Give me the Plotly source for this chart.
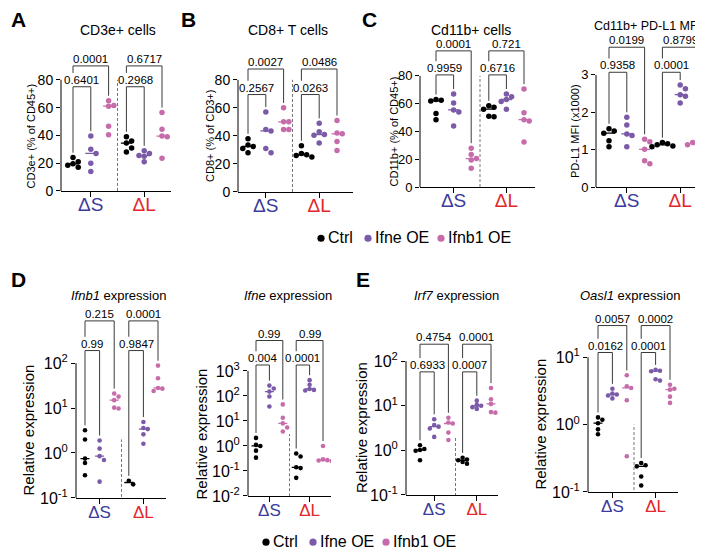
import numpy as np
import plotly.graph_objects as go

W, H = 703, 553
FONT = "Arial, Liberation Sans, Helvetica, sans-serif"
COLORS = ["#000000", "#7b5ba8", "#c76cab"]
GROUP_COLORS = ["#3b3b9b", "#e2262b"]
NAMES = ["Ctrl", "Ifne OE", "Ifnb1 OE"]

# values: [Ctrl, Ifne OE, Ifnb1 OE] for dS and dL
cd3e_S = [[24, 21, 19.5, 18.5, 17], [39.5, 30, 27, 20, 14], [65, 61.5, 61, 46.5, 40.5]]
cd3e_L = [[39, 36, 34.5, 31, 28], [29, 27, 25.5, 25, 21], [56.5, 44.5, 39.5, 39, 23.5]]
cd3e_p = ["0.6401", "0.0001", "0.2968", "0.6717"]

cd8_S = [[38, 33.5, 32.5, 31, 28], [57, 44.5, 43.5, 31, 28], [60, 50, 50, 44.5, 44.5]]
cd8_L = [[33, 27.5, 26.5, 26, 25], [49, 43, 41, 40.5, 35], [51, 42, 41.5, 36, 29.5]]
cd8_p = ["0.2567", "0.0027", "0.0263", "0.0486"]

cd11b_S = [[63, 62.5, 62, 53, 48.5], [67, 60.5, 55.5, 54, 44], [28, 23.5, 20.5, 19.5, 13.5]]
cd11b_L = [[58.5, 57.5, 56, 51, 50.5], [67, 65, 63, 61.5, 56], [70.5, 53.5, 48.5, 47.5, 32.5]]
cd11b_p = ["0.9959", "0.0001", "0.6716", "0.721"]

pdl1_S = [[1.56, 1.5, 1.44, 1.24, 1.08], [1.87, 1.66, 1.42, 1.38, 1.08], [1.28, 1.21, 1.01, 0.7, 0.62]]
pdl1_L = [[1.19, 1.16, 1.13, 1.1, 1.08], [2.73, 2.63, 2.47, 2.43, 2.25], [1.24, 1.21, 1.19, 1.18, 1.13]]
pdl1_p = ["0.9358", "0.0199", "0.0001", "0.8799"]

ifnb1_S = [[3.2, 2.0, 0.75, 0.6, 0.32], [1.9, 1.25, 0.85, 0.7, 0.23], [21, 18, 15, 10.2, 9.8]]
ifnb1_L = [[0.24, 0.2], [4.9, 3.6, 3.4, 2.6, 1.6], [88, 46, 28, 27, 24]]
ifnb1_p = ["0.99", "0.215", "0.9847", "0.0001"]

ifne_S = [[2.1, 1.1, 1.0, 0.65, 0.34], [260, 200, 150, 95, 38], [46, 13.5, 8, 5.5, 3.8]]
ifne_L = [[0.5, 0.38, 0.14, 0.13, 0.053], [430, 280, 190, 175, 165], [1.0, 0.29, 0.27, 0.26, 0.25]]
ifne_p = ["0.004", "0.99", "0.0001", "0.99"]

irf7_S = [[1.3, 1.07, 1.02, 0.98, 0.6], [5, 3.7, 3.4, 3.1, 2], [5.4, 4.2, 4, 2.5, 1.7]]
irf7_L = [[0.68, 0.62, 0.6, 0.55, 0.5], [13, 10.5, 10, 9.3, 8.5], [25, 14, 11, 7, 7.2]]
irf7_p = ["0.6933", "0.4754", "0.0007", "0.0001"]

oasl1_S = [[1.28, 1.18, 1.05, 0.85, 0.72], [3.4, 2.9, 2.8, 2.7, 2.45], [5.4, 3.7, 3.5, 2.3, 0.34]]
oasl1_L = [[0.27, 0.25, 0.24, 0.17, 0.125], [6.5, 6.3, 6.2, 4.7, 4.5], [3.9, 3.4, 3.3, 2.6, 2.1]]
oasl1_p = ["0.0162", "0.0057", "0.0001", "0.0002"]

lin_ticks = [0, 20, 40, 60, 80]

# layout of each panel in pixels: x axis (left, right, first cat, last cat), y axis (bottom, top tick, domain top)
panels = [
    dict(S=cd3e_S, L=cd3e_L, p=cd3e_p, title="CD3e+ cells", tpos=(110, 22, 14), ytitle="CD3e+ (% of CD45+)",
         ticks=lin_ticks, log=False, xpx=(53, 163, 65, 154), ypx=(186, 73, 25), brk=(75, 90), ysh=30,
         tfs=14, letter=("A", 1, 12), dash=True),
    dict(S=cd8_S, L=cd8_L, p=cd8_p, title="CD8+ T cells", tpos=(280, 22, 14), ytitle="CD8+ (% of CD3+)",
         ticks=lin_ticks, log=False, xpx=(230, 345, 240, 329), ypx=(187, 73, 25), brk=(69.5, 87.7), ysh=28,
         tfs=14, letter=("B", 171, 12), dash=True),
    dict(S=cd11b_S, L=cd11b_L, p=cd11b_p, title="Cd11b+ cells", tpos=(463, 22, 14), ytitle="CD11b+ (% of CD45+)",
         ticks=lin_ticks, log=False, xpx=(412, 527, 428, 516), ypx=(182, 69, 25), brk=(80.7, 98), ysh=26,
         tfs=13, letter=("C", 352, 12), dash=True),
    dict(S=pdl1_S, L=pdl1_L, p=pdl1_p, title="Cd11b+ PD-L1 MFI", tpos=(639, 18, 12.5), ytitle="PD-L1 MFI (x1000)",
         ticks=[0, 1, 2, 3], log=False, xpx=(588, 703, 601, 690), ypx=(182, 68, 25), brk=(3.07, 3.74), ysh=21,
         tfs=13, letter=None, dash=False),
    dict(S=ifnb1_S, L=ifnb1_L, p=ifnb1_p, title="<i>Ifnb1</i> expression", tpos=(110, 292, 13),
         ytitle="Relative expression", ticks=[0.1, 1, 10, 100], log=True, xpx=(68, 158, 77, 150),
         ypx=(498, 361, 298), brk=(2.28, 2.94), ysh=47, tfs=16, letter=("D", 1, 276), dash=True),
    dict(S=ifne_S, L=ifne_L, p=ifne_p, title="<i>Ifne</i> expression", tpos=(280, 292, 13),
         ytitle="Relative expression", ticks=[0.01, 0.1, 1, 10, 100, 1000], log=True, xpx=(240, 323, 248, 315),
         ypx=(496, 369, 298), brk=(3.24, 4.22), ysh=47, tfs=16, letter=None, dash=True),
    dict(S=irf7_S, L=irf7_L, p=irf7_p, title="<i>Irf7</i> expression", tpos=(448, 292, 13),
         ytitle="Relative expression", ticks=[0.1, 1, 10, 100], log=True, xpx=(398, 490, 412, 483),
         ypx=(495, 359, 298), brk=(1.76, 2.38), ysh=45, tfs=16, letter=("E", 346, 276), dash=True),
    dict(S=oasl1_S, L=oasl1_L, p=oasl1_p, title="<i>Oasl1</i> expression", tpos=(622, 292, 13),
         ytitle="Relative expression", ticks=[0.1, 1, 10], log=True, xpx=(580, 670, 590, 662),
         ypx=(492, 355, 298), brk=(1.07, 1.47), ysh=47, tfs=16, letter=None, dash=True),
]


def swarm(t, sx, sy, d):
    # simple beeswarm: spread overlapping dots sideways (pixel space)
    order = np.argsort(-t)
    placed = []
    offs = np.zeros(len(t))
    for k in order:
        y = t[k] * sy
        for o in [0, 1, -1, 2, -2, 3, -3]:
            ox = o * d * 0.95
            if all((ox - a) ** 2 + (y - b) ** 2 >= (0.9 * d) ** 2 for a, b in placed):
                break
        placed.append((ox, y))
        offs[k] = ox / sx
    return offs


fig = go.Figure()
shapes, annos = [], []
axis_font = dict(family=FONT, color="black")

for i, P in enumerate(panels, start=1):
    sfx = "" if i == 1 else str(i)
    xa, ya = "x" + sfx, "y" + sfx
    log = P["log"]
    top_row = not log
    xl, xr, p0, p5 = P["xpx"]
    yb, yt, ytop = P["ypx"]
    sx = (p5 - p0) / 5
    tr = (lambda v: np.log10(np.asarray(v, float))) if log else (lambda v: np.asarray(v, float))
    to_val = (lambda t: 10 ** np.asarray(t)) if log else (lambda t: np.asarray(t))
    lo, hi = float(tr(P["ticks"][0])), float(tr(P["ticks"][-1]))
    sy = (yb - yt) / (hi - lo)
    top = lo + (yb - ytop) / sy

    if log:
        ticktext = ["10<sup>%d</sup>" % round(np.log10(t)) for t in P["ticks"]]
    else:
        ticktext = [str(t) for t in P["ticks"]]
    gfs = 19 if top_row else 17
    fig.update_layout({
        "xaxis" + sfx: dict(domain=[xl / W, xr / W], anchor=ya, range=[(xl - p0) / sx, (xr - p0) / sx],
                            showgrid=False, zeroline=False, showline=True, linecolor="black", linewidth=1,
                            ticks="outside", ticklen=5, tickcolor="black", tickvals=[1, 4],
                            ticklabelstandoff=-9 if top_row else -6,
                            ticktext=["<span style='color:%s'>ΔS</span>" % GROUP_COLORS[0],
                                      "<span style='color:%s'>ΔL</span>" % GROUP_COLORS[1]],
                            tickfont=dict(axis_font, size=gfs)),
        "yaxis" + sfx: dict(domain=[1 - yb / H, 1 - ytop / H], anchor=xa, range=[lo, top],
                            type="log" if log else "linear", showgrid=False, zeroline=False, showline=False,
                            ticks="outside", ticklen=4, tickcolor="black", tickvals=P["ticks"],
                            ticktext=ticktext, tickfont=dict(axis_font, size=P["tfs"])),
    })

    # y axis line only up to the last tick
    shapes.append(dict(type="line", xref=xa + " domain", yref=ya + " domain", x0=0, x1=0, y0=0,
                       y1=(hi - lo) / (top - lo), line=dict(color="black", width=1)))
    if P["dash"]:
        shapes.append(dict(type="line", xref=xa, yref=ya, x0=2.5, x1=2.5, y0=lo, y1=hi,
                           line=dict(color="#666666", width=0.9, dash="3px,2px")))

    msize = 5.5 if top_row else 4.6
    mlen = 11 if top_row else 9
    groups = P["S"] + P["L"]
    for g, vals in enumerate(groups):
        c = COLORS[g % 3]
        t = tr(vals)
        offs = swarm(t, sx, sy, msize)
        fig.add_trace(go.Scatter(x=g + offs, y=vals, mode="markers", xaxis=xa, yaxis=ya,
                                 marker=dict(color=c, size=msize, line=dict(width=0)),
                                 showlegend=False, hoverinfo="skip"))
        med = float(np.median(vals))
        hw = mlen / 2 / sx
        fig.add_trace(go.Scatter(x=[g - hw, g + hw], y=[med, med], mode="lines", xaxis=xa, yaxis=ya,
                                 line=dict(color=c, width=1.3), showlegend=False, hoverinfo="skip"))

    # significance brackets
    inner, outer = P["brk"]
    gap = 5 / sy
    for side, base in ((0, 0), (1, 3)):
        maxes = [float(tr(max(v))) for v in groups[base:base + 3]]
        p_in, p_out = P["p"][2 * side], P["p"][2 * side + 1]
        br = [
            ([base, base, base + 1, base + 1], [maxes[0] + gap, inner, inner, maxes[1] + gap], p_in, inner, base + 0.5),
            ([base, base, base + 2, base + 2], [inner + 14 / sy, outer, outer, maxes[2] + gap], p_out, outer, base + 1),
        ]
        for bx, by, lab, lvl, cx in br:
            fig.add_trace(go.Scatter(x=bx, y=to_val(by), mode="lines", xaxis=xa, yaxis=ya,
                                     line=dict(color="#3a3a3a", width=1), showlegend=False, hoverinfo="skip"))
            annos.append(dict(xref=xa, yref=ya, x=cx, y=lvl, text=lab, showarrow=False, xanchor="center",
                              yanchor="bottom", yshift=-1, font=dict(axis_font, size=11.5)))

    # titles
    tx, ty, tfs = P["tpos"]
    annos.append(dict(xref="paper", yref="paper", x=tx / W, y=1 - ty / H, text=P["title"], showarrow=False,
                      xanchor="center", yanchor="middle", font=dict(axis_font, size=tfs)))
    annos.append(dict(xref=xa + " domain", yref=ya, x=0, y=(lo + hi) / 2, xshift=-P["ysh"], text=P["ytitle"],
                      textangle=-90, showarrow=False, xanchor="center", yanchor="middle",
                      font=dict(axis_font, size=11 if top_row else 15)))
    if P["letter"]:
        lt, lx, ly = P["letter"]
        annos.append(dict(xref="paper", yref="paper", x=lx / W, y=1 - ly / H, text="<b>%s</b>" % lt,
                          showarrow=False, xanchor="left", yanchor="middle", font=dict(axis_font, size=21)))

# legends (two rows): dot centres in pixels, label just right of the dot
r = 3.6
for row_y, dx in ((233, 0), (542, -55)):
    for name, c, dot_x in zip(NAMES, COLORS, [313, 360, 433]):
        cx = dot_x + dx
        shapes.append(dict(type="circle", xref="paper", yref="paper", x0=(cx - r) / W, x1=(cx + r) / W,
                           y0=1 - (row_y + 1 + r) / H, y1=1 - (row_y + 1 - r) / H,
                           fillcolor=c, line=dict(width=0)))
        annos.append(dict(xref="paper", yref="paper", x=(cx + 5) / W, y=1 - row_y / H, showarrow=False,
                          xanchor="left", yanchor="middle", text=name, font=dict(axis_font, size=16)))

fig.update_layout(width=W, height=H, margin=dict(l=0, r=0, t=0, b=0), plot_bgcolor="white",
                  paper_bgcolor="white", shapes=shapes, annotations=annos, font=dict(family=FONT))
fig.write_html("out.html")
